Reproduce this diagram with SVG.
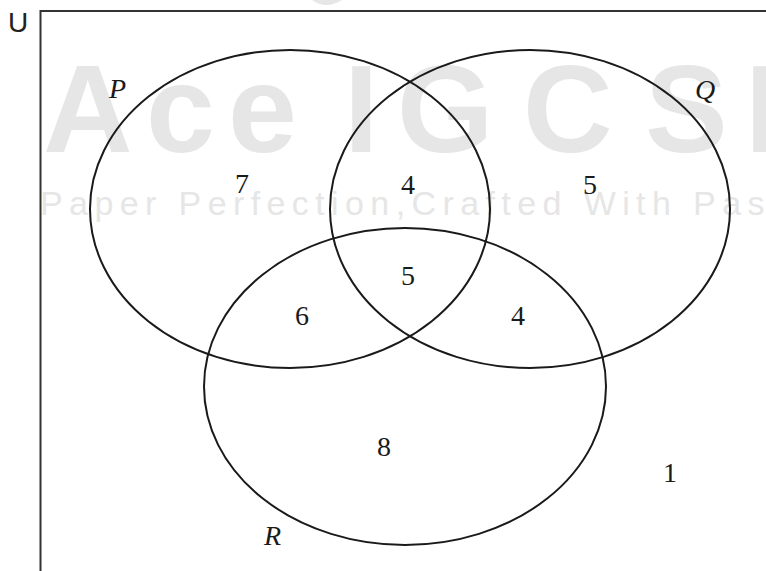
<svg xmlns="http://www.w3.org/2000/svg" width="766" height="571" viewBox="0 0 766 571">
<style>
.wm{font-family:"Liberation Sans",Arial,sans-serif;fill:#e6e6e6}
.set{fill:none;stroke:#1a1a1a;stroke-width:2}
.frame{fill:none;stroke:#333;stroke-width:2}
.num{font-family:"Liberation Serif","Times New Roman",serif;font-size:28px;fill:#1a1a1a;text-anchor:middle}
.lab{font-family:"Liberation Serif","Times New Roman",serif;font-size:28px;font-style:italic;fill:#1a1a1a}
.u{font-family:"Liberation Sans",Arial,sans-serif;font-size:28px;fill:#222}
</style>
<rect width="766" height="571" fill="#fff"/>
<g id="watermark">
<path d="M312 0 Q326 10 342 0 Z" fill="#e6e6e6"/>
<text class="wm" font-size="124" font-weight="bold" x="43 146 228 344 397 523 645 745" y="152">AceIGCSE</text>
<text class="wm" font-size="34" letter-spacing="6.4" x="40" y="215">Paper Perfection,Crafted With Pass</text>
</g>
<g id="universe">
<path class="frame" d="M40.5 571 V11 H766"/>
<text class="u" x="8" y="32">U</text>
</g>
<g id="connectors"></g>
<g id="setP">
<ellipse class="set" cx="290" cy="209" rx="200" ry="159"/>
<text class="lab" x="109" y="98">P</text>
</g>
<g id="setQ">
<ellipse class="set" cx="530" cy="209" rx="200" ry="159"/>
<text class="lab" x="695" y="99">Q</text>
</g>
<g id="setR">
<ellipse class="set" cx="405" cy="386.5" rx="201" ry="158.5"/>
<text class="lab" x="264" y="545">R</text>
</g>
<g id="counts">
<text class="num" x="242" y="193">7</text>
<text class="num" x="408" y="194">4</text>
<text class="num" x="590" y="194">5</text>
<text class="num" x="408" y="285">5</text>
<text class="num" x="302" y="325">6</text>
<text class="num" x="518" y="325">4</text>
<text class="num" x="384" y="456">8</text>
<text class="num" x="670" y="482">1</text>
</g>
</svg>
